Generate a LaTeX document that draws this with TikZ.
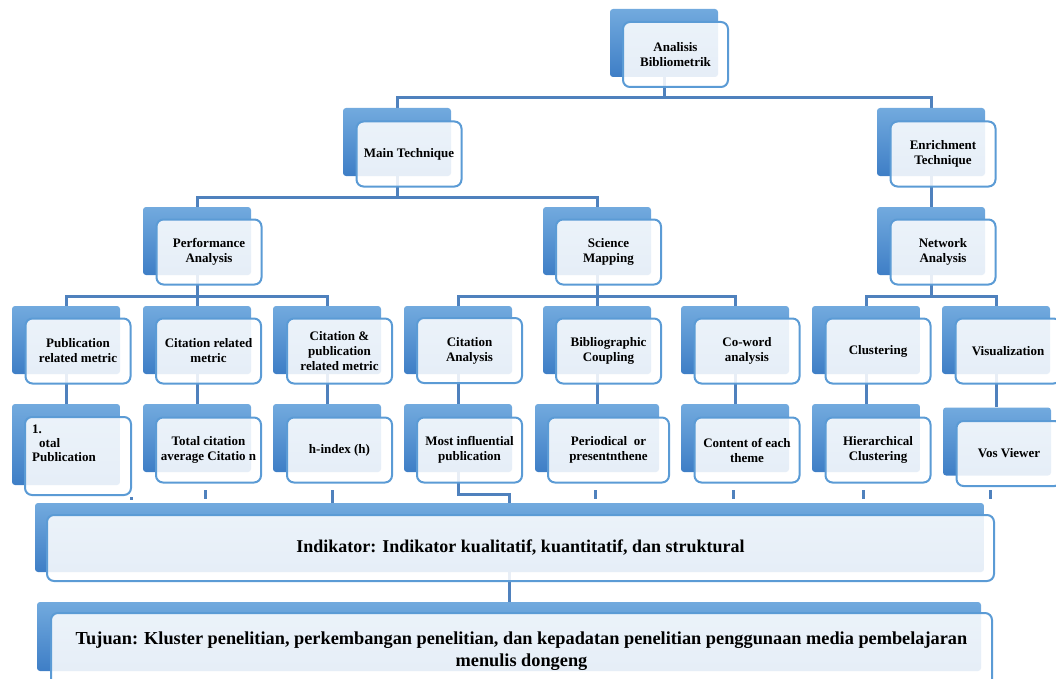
\documentclass[tikz,border=0pt]{standalone}
\usepackage{fontspec}
\setmainfont{Liberation Serif}
\usetikzlibrary{backgrounds}
\definecolor{boxtop}{RGB}{114,170,222}
\definecolor{boxbot}{RGB}{62,126,198}
\definecolor{boxline}{RGB}{91,155,213}
\definecolor{linkcol}{RGB}{79,129,189}
\begin{document}
\begin{tikzpicture}[x=1pt,y=-1pt,
    link/.style={draw=linkcol,line width=3pt},
    back/.style={rectangle,rounded corners=3pt,top color=boxtop,bottom color=boxbot,
      minimum width=108pt,minimum height=68pt,inner sep=0pt},
    front/.style={rectangle,rounded corners=7pt,draw=boxline,line width=2pt,
      fill=white,fill opacity=0.87,text opacity=1,minimum width=105pt,minimum height=65pt,
      inner sep=2pt,align=center,font=\fontsize{13}{15}\selectfont\bfseries}]

        \useasboundingbox (0,0) rectangle (1056,679);

        \begin{scope}[every node/.style={back}]
          \node (ab)   at (664,43)  {};
          \node (mtb)  at (397,142) {};
          \node (etb)  at (931,142) {};
          \node (pab)  at (197,241) {};
          \node (smb)  at (597,241) {};
          \node (nab)  at (931,241) {};
          \node (pmb)  at (66,340)  {};
          \node (crb)  at (197,340) {};
          \node (cpb)  at (327,340) {};
          \node (cab)  at (458,340) {};
          \node (bcb)  at (597,340) {};
          \node (cwb)  at (735,340) {};
          \node (clb)  at (866,340) {};
          \node (vib)  at (996,340) {};
          \node[minimum height=81pt] (tpb) at (66,444.5) {};
          \node (tcb)  at (197,438) {};
          \node (hib)  at (327,438) {};
          \node (mib)  at (458,438) {};
          \node[minimum width=124pt] (pdb) at (597,438) {};
          \node (ceb)  at (735,438) {};
          \node (hcb)  at (866,438) {};
          \node (vvb)  at (997,441.5) {};
          \node[minimum width=949pt,minimum height=69pt] (indb) at (509.5,537.5) {};
          \node[minimum width=944pt,minimum height=69pt] (tujb) at (509,636.5) {};
        \end{scope}

        \begin{scope}[every node/.style={front}]
          \node (a)   at (675.5,54.5) {Analisis\\Bibliometrik};
          \node (mt)  at (409,154)    {Main Technique};
          \node (et)  at (943,154)    {Enrichment\\Technique};
          \node (pa)  at (209,252)    {Performance\\Analysis};
          \node (sm)  at (608.5,252)  {Science\\Mapping};
          \node (na)  at (943,252)    {Network\\Analysis};
          \node (pm)  at (78,351)     {Publication\\related metric};
          \node (cr)  at (208.5,351)  {Citation related\\metric};
          \node (cp)  at (339.5,351)  {Citation \&\\publication\\related metric};
          \node (ca)  at (469.5,350.5) {Citation\\Analysis};
          \node (bc)  at (608.5,351)  {Bibliographic\\Coupling};
          \node (cw)  at (747,351)    {Co-word\\analysis};
          \node (cl)  at (878,351)    {Clustering};
          \node (vi)  at (1008,351)   {Visualization};
          \node[minimum width=106pt,minimum height=78pt] (tp) at (78,456) {};
          \node (tc)  at (208.5,450)  {Total citation\\average Citatio n};
          \node (hi)  at (339.5,450)  {h-index (h)};
          \node (mi)  at (469.5,450)  {Most influential\\publication};
          \node[minimum width=121pt] (pd) at (608.5,450) {Periodical\enspace or\\presentnthene};
          \node (ce)  at (747,450)    {Content of each\\theme};
          \node (hc)  at (878,450)    {Hierarchical\\Clustering};
          \node (vv)  at (1009,453.5) {Vos Viewer};
          \node[minimum width=947pt,minimum height=66pt,font=\fontsize{18}{22}\selectfont\bfseries] (ind) at (520.5,548)
            {Indikator: Indikator kualitatif, kuantitatif, dan struktural};
          \node[minimum width=941pt,minimum height=77pt,font=\fontsize{18.3}{22}\selectfont\bfseries] (tuj) at (521.5,651.5)
            {Tujuan: Kluster penelitian, perkembangan penelitian, dan kepadatan penelitian penggunaan media pembelajaran\\menulis dongeng};
        \end{scope}

        \node[anchor=west,align=left,inner sep=0pt,font=\fontsize{13}{14}\selectfont\bfseries] (tptext) at (32,443)
          {1.\\\hspace*{7pt}otal\\Publication};

        \coordinate (bus1) at (664,98);
        \coordinate (bus2) at (397,197);
        \coordinate (bus3) at (197,296);
        \coordinate (bus4) at (597,296);
        \coordinate (bus5) at (931,296);
        \coordinate (jn)   at (509,494);
        \coordinate (s1)   at (131,497);
        \coordinate (s2)   at (205,490);
        \coordinate (s3)   at (332,490);
        \coordinate (s5)   at (595,490);
        \coordinate (s6)   at (733,490);
        \coordinate (s7)   at (863,490);
        \coordinate (s8)   at (990,490);

        \begin{scope}[on background layer]
          \draw[link] (ab.center) -- (bus1);
          \draw[link] (mtb.north) |- (bus1) -| (etb.north);
          \draw[link] (mtb.center) -- (bus2);
          \draw[link] (pab.north) |- (bus2) -| (smb.north);
          \draw[link] (pab.center) -- (bus3);
          \draw[link] (pmb.north) |- (bus3) -| (cpb.north);
          \draw[link] (crb.north) -- (bus3);
          \draw[link] (smb.center) -- (bus4);
          \draw[link] (cab.north) |- (bus4) -| (cwb.north);
          \draw[link] (bcb.north) -- (bus4);
          \draw[link] (etb.center) -- (nab.north);
          \draw[link] (nab.center) -- (bus5);
          \draw[link] (clb.north) |- (bus5) -| (vib.north);
          % down to the fourth row
          \draw[link] (pmb.center) -- (tpb.north);
          \draw[link] (crb.center) -- (tcb.north);
          \draw[link] (cpb.center) -- (hib.north);
          \draw[link] (cab.center) -- (mib.north);
          \draw[link] (bcb.center) -- (pdb.north);
          \draw[link] (cwb.center) -- (ceb.north);
          \draw[link] (clb.center) -- (hcb.north);
          \draw[link] (vib.center) -- (vib.center |- vvb.north);
          % bottom
          \draw[link] (mib.center) |- (jn) -- (jn |- indb.north);
          \draw[link] (s3) -- (s3 |- indb.north);
          \draw[link] (indb.center) -- (indb.center |- tujb.north);
          \draw[link] (s1) -- ++(0,3);
          \draw[link] (s2) -- ++(0,9);
          \draw[link] (s5) -- ++(0,9);
          \draw[link] (s6) -- ++(0,9);
          \draw[link] (s7) -- ++(0,9);
          \draw[link] (s8) -- ++(0,9);
        \end{scope}

      \end{tikzpicture}
\end{document}
